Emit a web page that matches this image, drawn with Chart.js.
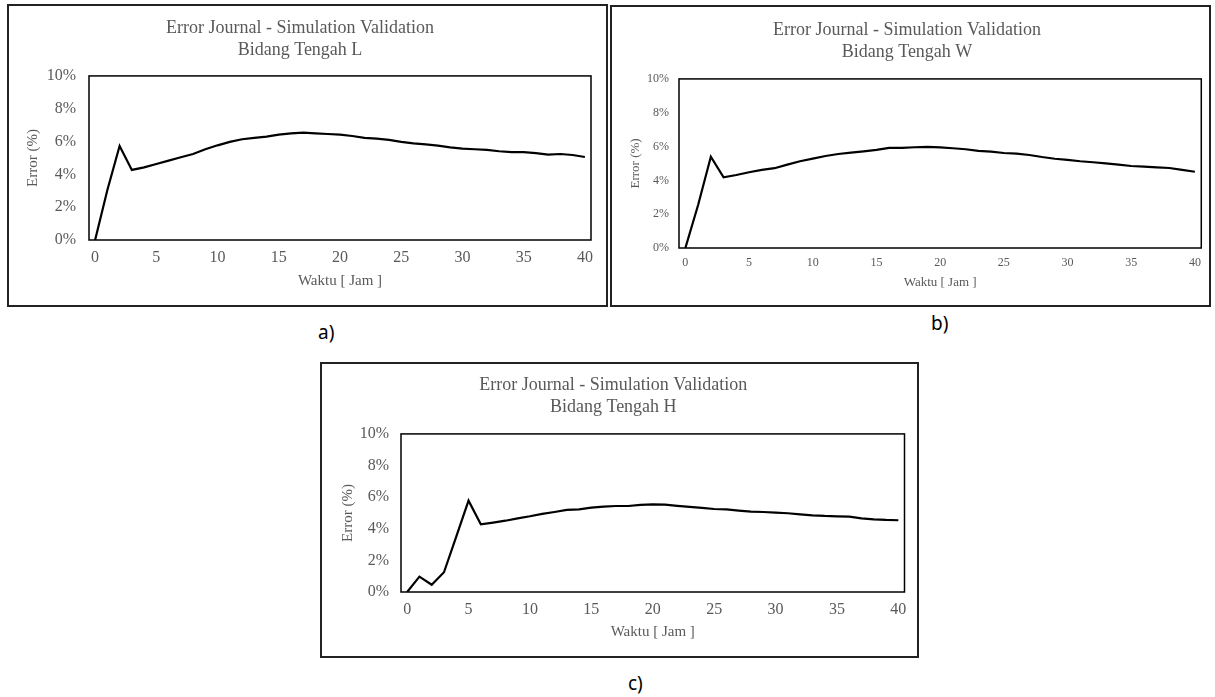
<!DOCTYPE html>
<html>
<head>
<meta charset="utf-8">
<script src="https://cdn.jsdelivr.net/npm/chart.js@4.4.1/dist/chart.umd.min.js"></script>
<style>
  body { margin: 0; background: #fff; width: 1215px; height: 697px; position: relative; overflow: hidden; }
  .box { position: absolute; border: 2px solid #222; background: #fff; }
  .box canvas { display: block; }
  .tag { position: absolute; font-family: 'Noto Sans', 'Liberation Sans', sans-serif; font-size: 19px; color: #000; }
</style>
</head>
<body>
<div class="box" style="left:7px; top:4px;"><canvas id="chartL" width="597" height="299"></canvas></div>
<div class="box" style="left:610px; top:5px;"><canvas id="chartW" width="597" height="298"></canvas></div>
<div class="box" style="left:320px; top:362px;"><canvas id="chartH" width="595" height="292"></canvas></div>
<div class="tag" style="left:318px; top:319px;">a)</div>
<div class="tag" style="left:931px; top:310px;">b)</div>
<div class="tag" style="left:628px; top:670px;">c)</div>

<script>
// Data (error in %, one value per hour)
const hours = [0, 1, 2, 3, 4, 5, 6, 7, 8, 9, 10, 11, 12, 13, 14, 15, 16, 17, 18, 19, 20,
               21, 22, 23, 24, 25, 26, 27, 28, 29, 30, 31, 32, 33, 34, 35, 36, 37, 38, 39, 40];

const errorL = [0, 3.05, 5.73, 4.27, 4.43, 4.63, 4.84, 5.04, 5.24, 5.53, 5.77, 5.98, 6.14, 6.22,
                6.30, 6.42, 6.50, 6.54, 6.50, 6.46, 6.42, 6.34, 6.22, 6.18, 6.10, 5.98, 5.89,
                5.83, 5.75, 5.65, 5.57, 5.53, 5.49, 5.41, 5.35, 5.35, 5.30, 5.20, 5.24, 5.18, 5.06];

const errorW = [0, 2.54, 5.40, 4.18, 4.32, 4.48, 4.62, 4.72, 4.93, 5.13, 5.29, 5.44, 5.56, 5.64,
                5.72, 5.80, 5.92, 5.92, 5.96, 5.98, 5.95, 5.90, 5.84, 5.74, 5.70, 5.62, 5.58,
                5.50, 5.38, 5.28, 5.21, 5.13, 5.07, 5.01, 4.93, 4.85, 4.81, 4.77, 4.73, 4.62, 4.51];

const errorH = [0, 0.97, 0.46, 1.25, 3.50, 5.78, 4.28, 4.39, 4.51, 4.66, 4.79, 4.94, 5.06, 5.19,
                5.23, 5.34, 5.40, 5.44, 5.44, 5.51, 5.54, 5.53, 5.45, 5.38, 5.32, 5.25, 5.23,
                5.15, 5.08, 5.06, 5.02, 4.98, 4.91, 4.85, 4.81, 4.79, 4.77, 4.66, 4.60, 4.56, 4.54];

const yTicks = [0, 2, 4, 6, 8, 10];
const chartTitle = 'Error Journal - Simulation Validation';
const xTitle = 'Waktu [ Jam ]';
const yTitle = 'Error (%)';

const serif = "'Liberation Serif', 'Times New Roman', serif";
const grey = '#595959';

// draws the black frame round the plot area
const plotFrame = {
  id: 'plotFrame',
  afterDraw(chart) {
    const { ctx, chartArea: a } = chart;
    ctx.save();
    ctx.strokeStyle = '#000';
    ctx.lineWidth = 1.5;
    ctx.strokeRect(a.left, a.top, a.right - a.left, a.bottom - a.top);
    ctx.restore();
  }
};

function makeChart(id, subtitle, values, lay) {
  return new Chart(document.getElementById(id), {
    type: 'line',
    data: {
      labels: hours,
      datasets: [{
        data: values,
        borderColor: '#000',
        borderWidth: 2.2,
        pointRadius: 0,
        tension: 0,
        fill: false
      }]
    },
    options: {
      responsive: false,
      animation: false,
      layout: { padding: { left: 0, right: lay.padRight, top: 0, bottom: 0 } },
      plugins: {
        legend: { display: false },
        tooltip: { enabled: false },
        title: {
          display: true,
          text: [chartTitle, 'Bidang Tengah ' + subtitle],
          color: grey,
          font: { family: serif, size: 18, weight: 'normal', lineHeight: 1.22 },
          padding: { top: lay.titleTop, bottom: lay.titleBottom }
        }
      },
      scales: {
        x: {
          type: 'category',
          offset: true,
          grid: { display: false, drawTicks: false },
          border: { display: false },
          ticks: {
            autoSkip: false,
            maxRotation: 0,
            padding: 8,
            color: grey,
            font: { family: serif, size: lay.tickSize },
            callback: (v, i) => (hours[i] % 5 === 0 ? String(hours[i]) : '')
          },
          title: {
            display: true,
            text: xTitle,
            color: grey,
            font: { family: serif, size: lay.axisSize },
            padding: { top: 0, bottom: lay.xTitlePad }
          },
          afterFit: s => { s.height = lay.xHeight; }
        },
        y: {
          min: 0,
          max: 10,
          grid: { display: false, drawTicks: false },
          border: { display: false },
          afterBuildTicks: s => { s.ticks = yTicks.map(v => ({ value: v })); },
          ticks: {
            padding: lay.yTickPad,
            color: grey,
            font: { family: serif, size: lay.tickSize },
            callback: v => v + '%'
          },
          title: {
            display: true,
            text: yTitle,
            color: grey,
            font: { family: serif, size: lay.axisSize },
            padding: { top: lay.yTitlePad, bottom: 0 }
          },
          afterFit: s => { s.width = lay.yWidth; }
        }
      }
    },
    plugins: [plotFrame]
  });
}

makeChart('chartL', 'L', errorL, {
  padRight: 15, titleTop: 11.3, titleBottom: 14.7, xHeight: 65, yWidth: 80,
  tickSize: 16, axisSize: 15, yTickPad: 13, yTitlePad: 15, xTitlePad: 15
});
makeChart('chartW', 'W', errorW, {
  padRight: 7, titleTop: 12.7, titleBottom: 15.3, xHeight: 57, yWidth: 67,
  tickSize: 12, axisSize: 13, yTickPad: 10, yTitlePad: 16, xTitlePad: 15
});
makeChart('chartH', 'H', errorH, {
  padRight: 12.5, titleTop: 10, titleBottom: 16, xHeight: 64, yWidth: 79,
  tickSize: 16, axisSize: 15, yTickPad: 12, yTitlePad: 17, xTitlePad: 14.5
});
</script>
</body>
</html>
